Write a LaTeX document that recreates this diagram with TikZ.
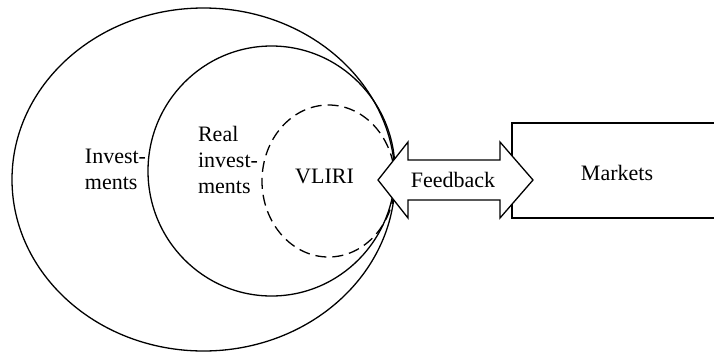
\documentclass[tikz,border=0pt]{standalone}
\usepackage{fontspec}
\setmainfont{Liberation Serif}
\newfontfamily\figfont{Liberation Serif}
\usetikzlibrary{shapes.geometric}
\begin{document}
\begin{tikzpicture}[x=1pt,y=-1pt,
  ring/.style={draw,ellipse,line width=1.3pt,inner sep=0pt,outer sep=0pt},
  lbl/.style={font=\figfont\fontsize{22}{26}\selectfont,align=left,inner sep=0pt},
  outline/.style={line width=1.3pt,line join=miter}]
\useasboundingbox (0,0) rectangle (714,354);
\node[ring,minimum width=383pt,minimum height=343pt] (inv) at (203.5,179.5) {};
\node[ring,minimum width=247pt,minimum height=250pt] (real) at (271.5,171) {};
\node[ring,dash pattern=on 11pt off 6pt,minimum width=133pt,minimum height=152pt] (vliri) at (328.5,181) {};
\node[lbl] (tinv) at (115.5,169) {Invest-\\ments};
\node[lbl] (treal) at (228,160) {Real\\invest-\\ments};
\node[lbl] (tvliri) at (324.5,176) {VLIRI};
\coordinate (mtr) at (720,123);
\coordinate (mbr) at (720,218);
\draw[outline] (mtr) -- (512,123) coordinate (mtl) -- (512,218) coordinate (mbl) -- (mbr);
\node[lbl] (tmark) at (617,173) {Markets};
\filldraw[outline,fill=white] (378,180) -- (408,142) -- (408,160) -- (500,160) -- (500,142) -- (533,180) -- (500,218) -- (500,200) -- (408,200) -- (408,218) -- cycle;
\node[lbl] (fb) at (453,180) {Feedback};
\end{tikzpicture}
\end{document}
